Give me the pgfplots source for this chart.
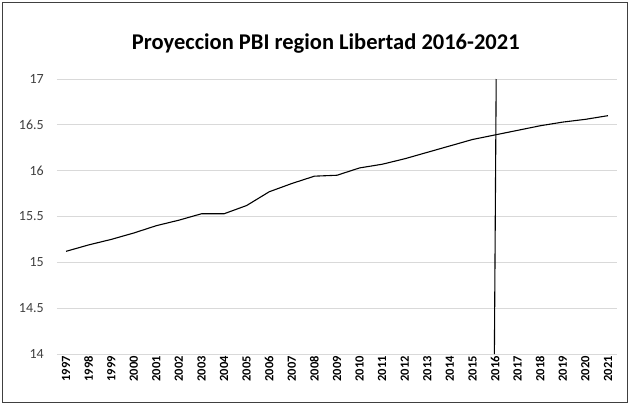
\documentclass[border=0pt]{standalone}
\usepackage{pgfplots}
\pgfplotsset{compat=1.18}
\usepackage{fontspec}
\setmainfont{Carlito}
\definecolor{gridc}{HTML}{D9D9D9}
\definecolor{tickc}{HTML}{404040}
\begin{document}
\begin{tikzpicture}[x=1pt,y=1pt]
\begin{axis}[
  anchor=south west,
  scale only axis, width=560pt, height=275pt,
  xmin=-0.4, xmax=24.4, ymin=14, ymax=17,
  ytick={14,14.5,15,15.5,16,16.5,17},
  yticklabels={14,14.5,15,15.5,16,16.5,17},
  xtick={0,...,24},
  xticklabels={1997,1998,1999,2000,2001,2002,2003,2004,2005,2006,2007,2008,2009,2010,2011,2012,2013,2014,2015,2016,2017,2018,2019,2020,2021},
  x tick label style={rotate=90, anchor=east, font=\fontsize{12.5}{13}\selectfont\bfseries, text=black, inner sep=2pt},
  y tick label style={font=\fontsize{14}{15}\selectfont, text=tickc, inner sep=0pt, xshift=-13pt},
  major tick length=0pt,
  axis line style={draw=none},
  ymajorgrids, grid style={gridc, line width=0.8pt},
  /pgf/number format/assume math mode=true,
  clip=false,
  title={\fontsize{22.5}{24}\selectfont\bfseries Proyeccion PBI region Libertad 2016-2021},
  title style={at={(0.48,1)}, anchor=base, yshift=24pt, inner sep=0pt},
]
\addplot[black, line width=1.1pt, line join=round] coordinates {
(0,15.12) (1,15.19) (2,15.25) (3,15.32) (4,15.40) (5,15.46) (6,15.53) (7,15.53)
(8,15.62) (9,15.77) (10,15.86) (11,15.94) (12,15.95) (13,16.03) (14,16.07)
(15,16.13) (16,16.20) (17,16.27) (18,16.34) (19,16.39) (20,16.44) (21,16.49)
(22,16.53) (23,16.56) (24,16.60)
};
\addplot[black, line width=1.1pt] coordinates {(18.97,14) (19.05,17)};
\end{axis}
\pgfresetboundingbox
\draw[line width=1.2pt,black!75] (-54.5,-48.5) rectangle (570.5,351.5);
\path[use as bounding box] (-57,-51) rectangle (573,354);
\end{tikzpicture}
\end{document}
